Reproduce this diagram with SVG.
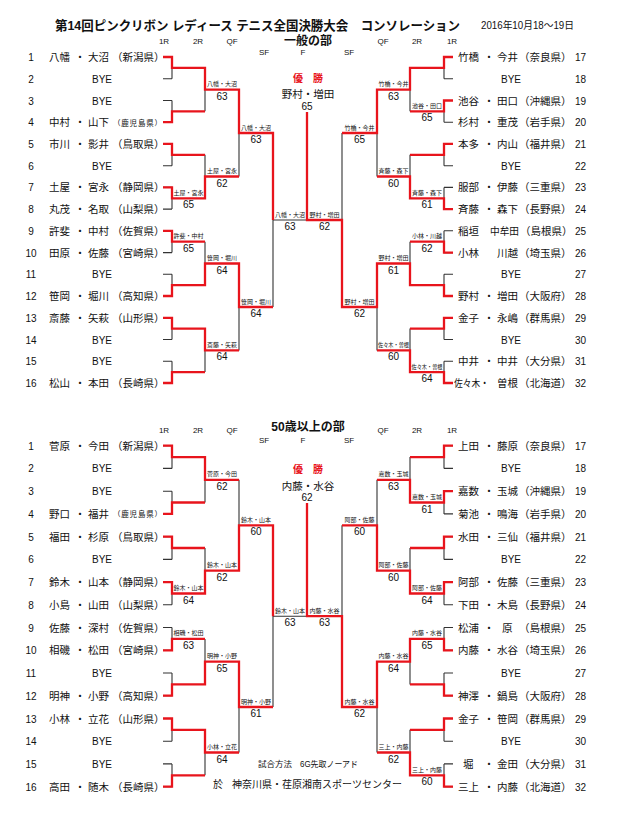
<svg xmlns="http://www.w3.org/2000/svg" width="620" height="840" viewBox="0 0 620 840">
<style>
text{font-family:"Liberation Sans","Noto Sans CJK JP",sans-serif;fill:#111}
.k{fill:none;stroke:#333;stroke-width:1.1}
.r{fill:none;stroke:#e8141c;stroke-width:2.3}
.n{font-size:10.5px}
.pf{font-size:10.5px}
.pfs{font-size:7.5px}
.d{font-size:10.5px;text-anchor:middle}
.num{font-size:10px;text-anchor:middle}
.numr{font-size:10px}
.bye{font-size:10px;text-anchor:middle}
.lab{font-size:6px;text-anchor:middle}
.sc{font-size:10px;text-anchor:middle}
.rd{font-size:8px;text-anchor:middle}
.ttl{font-size:12.8px;font-weight:bold}
.sec{font-size:12px;font-weight:bold;text-anchor:middle}
.win{font-size:10px;font-weight:bold;text-anchor:middle;fill:#e8141c}
.ch{font-size:10.5px;text-anchor:middle}
</style>
<rect width="620" height="840" fill="#fff"/>

<g id="header">
<text class="ttl" x="55" y="30" textLength="405" lengthAdjust="spacingAndGlyphs">第14回ピンクリボン レディース テニス全国決勝大会　コンソレーション</text>
<text x="481" y="29" font-size="10" textLength="93" lengthAdjust="spacingAndGlyphs">2016年10月18～19日</text>
</g>

<g id="connectors">
<path class="k" d="M163,57H172M163,78.7H172M163,100.5H172M163,122.2H172M163,143.9H172M163,165.7H172M163,187.4H172M163,209.1H172M163,230.8H172M163,252.6H172M163,274.3H172M163,296H172M163,317.8H172M163,339.5H172M163,361.2H172M163,383H172
M172,57V78.7M172,100.5V122.2M172,143.9V165.7M172,187.4V209.1M172,230.8V252.6M172,274.3V296M172,317.8V339.5M172,361.2V383
M205,67.9V111.3M205,154.8V198.3M205,241.7V285.2M205,328.6V372.1M239,89.6V176.5M239,263.5V350.4M273,133V307M273,220H342
M444,57H453M444,78.7H453M444,100.5H453M444,122.2H453M444,143.9H453M444,165.7H453M444,187.4H453M444,209.1H453M444,230.8H453M444,252.6H453M444,274.3H453M444,296H453M444,317.8H453M444,339.5H453M444,361.2H453M444,383H453
M444,57V78.7M444,100.5V122.2M444,143.9V165.7M444,187.4V209.1M444,230.8V252.6M444,274.3V296M444,317.8V339.5M444,361.2V383
M410,67.9V111.3M410,154.8V198.3M410,241.7V285.2M410,328.6V372.1M377,89.6V176.5M377,263.5V350.4M342,133V307"/>
<path class="k" d="M163,445.7H172M163,468.4H172M163,491.2H172M163,513.9H172M163,536.6H172M163,559.4H172M163,582.1H172M163,604.8H172M163,627.5H172M163,650.3H172M163,673H172M163,695.7H172M163,718.5H172M163,741.2H172M163,763.9H172M163,786.7H172
M172,445.7V468.4M172,491.2V513.9M172,536.6V559.4M172,582.1V604.8M172,627.5V650.3M172,673V695.7M172,718.5V741.2M172,763.9V786.7
M205,457.1V502.5M205,548V593.5M205,638.9V684.4M205,729.8V775.3M239,479.8V570.7M239,661.6V752.5M273,525.3V707M273,616.2H342
M444,445.7H453M444,468.4H453M444,491.2H453M444,513.9H453M444,536.6H453M444,559.4H453M444,582.1H453M444,604.8H453M444,627.5H453M444,650.3H453M444,673H453M444,695.7H453M444,718.5H453M444,741.2H453M444,763.9H453M444,786.7H453
M444,445.7V468.4M444,491.2V513.9M444,536.6V559.4M444,582.1V604.8M444,627.5V650.3M444,673V695.7M444,718.5V741.2M444,763.9V786.7
M410,457.1V502.5M410,548V593.5M410,638.9V684.4M410,729.8V775.3M377,479.8V570.7M377,661.6V752.5M342,525.3V707"/>
<path class="r" d="M163,57H172V67.9H205V89.6H239V133H273V220
M163,122.2H172V111.3H205
M163,143.9H172V154.8H205
M163,187.4H172V198.3H205V176.5H239
M163,230.8H172V241.7H205
M163,296H172V285.2H205V263.5H239V307H273
M163,317.8H172V328.6H205V350.4H239
M163,383H172V372.1H205
M453,57H444V67.9H410V89.6H377V133H342
M453,100.5H444V111.3H410
M453,143.9H444V154.8H410
M453,209.1H444V198.3H410V176.5H377
M453,252.6H444V241.7H410
M453,296H444V285.2H410V263.5H377V307H342V220H307V112
M453,317.8H444V328.6H410
M453,383H444V372.1H410V350.4H377"/>
<path class="r" d="M163,445.7H172V457.1H205V479.8H239
M163,513.9H172V502.5H205
M163,536.6H172V548H205
M163,582.1H172V593.5H205V570.7H239V525.3H273V616.2
M163,650.3H172V638.9H205
M163,695.7H172V684.4H205V661.6H239V707H273
M163,718.5H172V729.8H205V752.5H239
M163,786.7H172V775.3H205
M453,445.7H444V457.1H410
M453,491.2H444V502.5H410V479.8H377
M453,536.6H444V548H410
M453,582.1H444V593.5H410V570.7H377V525.3H342
M453,650.3H444V638.9H410V661.6H377V707H342V616.2H307V503
M453,695.7H444V684.4H410
M453,718.5H444V729.8H410
M453,786.7H444V775.3H410V752.5H377"/>
</g>

<!-- ===== 一般の部 ===== -->
<g id="sec1-head">
<text class="sec" x="308" y="45">一般の部</text>
<text class="rd" x="164" y="44">1R</text><text class="rd" x="198" y="44">2R</text><text class="rd" x="232" y="44">QF</text>
<text class="rd" x="264" y="55">SF</text><text class="rd" x="303" y="55">F</text><text class="rd" x="349" y="55">SF</text>
<text class="rd" x="383" y="44">QF</text><text class="rd" x="417" y="44">2R</text><text class="rd" x="452" y="44">1R</text>
</g>
<g id="sec1-champion">
<text class="win" x="308" y="82">優　勝</text>
<text class="ch" x="308" y="98">野村・増田</text>
<text class="sc" x="307" y="110">65</text>
</g>

<g id="t01"><text class="num" x="31" y="61">1</text><text class="n" x="49" y="61">八幡</text><text class="d" x="80" y="61">・</text><text class="n" x="88" y="61">大沼</text><text class="pf" x="112" y="61">（新潟県）</text></g>
<g id="t02"><text class="num" x="31" y="82.7">2</text><text class="bye" x="102" y="82.7">BYE</text></g>
<g id="t03"><text class="num" x="31" y="104.5">3</text><text class="bye" x="102" y="104.5">BYE</text></g>
<g id="t04"><text class="num" x="31" y="126.2">4</text><text class="n" x="49" y="126.2">中村</text><text class="d" x="80" y="126.2">・</text><text class="n" x="88" y="126.2">山下</text><text class="pfs" x="113" y="125.5" textLength="49" lengthAdjust="spacing">（鹿児島県）</text></g>
<g id="t05"><text class="num" x="31" y="147.9">5</text><text class="n" x="49" y="147.9">市川</text><text class="d" x="80" y="147.9">・</text><text class="n" x="88" y="147.9">影井</text><text class="pf" x="112" y="147.9">（鳥取県）</text></g>
<g id="t06"><text class="num" x="31" y="169.7">6</text><text class="bye" x="102" y="169.7">BYE</text></g>
<g id="t07"><text class="num" x="31" y="191.4">7</text><text class="n" x="49" y="191.4">土屋</text><text class="d" x="80" y="191.4">・</text><text class="n" x="88" y="191.4">宮永</text><text class="pf" x="112" y="191.4">（静岡県）</text></g>
<g id="t08"><text class="num" x="31" y="213.1">8</text><text class="n" x="49" y="213.1">丸茂</text><text class="d" x="80" y="213.1">・</text><text class="n" x="88" y="213.1">名取</text><text class="pf" x="112" y="213.1">（山梨県）</text></g>
<g id="t09"><text class="num" x="31" y="234.8">9</text><text class="n" x="49" y="234.8">許斐</text><text class="d" x="80" y="234.8">・</text><text class="n" x="88" y="234.8">中村</text><text class="pf" x="112" y="234.8">（佐賀県）</text></g>
<g id="t10"><text class="num" x="31" y="256.6">10</text><text class="n" x="49" y="256.6">田原</text><text class="d" x="80" y="256.6">・</text><text class="n" x="88" y="256.6">佐藤</text><text class="pf" x="112" y="256.6">（宮崎県）</text></g>
<g id="t11"><text class="num" x="31" y="278.3">11</text><text class="bye" x="102" y="278.3">BYE</text></g>
<g id="t12"><text class="num" x="31" y="300">12</text><text class="n" x="49" y="300">笹岡</text><text class="d" x="80" y="300">・</text><text class="n" x="88" y="300">堀川</text><text class="pf" x="112" y="300">（高知県）</text></g>
<g id="t13"><text class="num" x="31" y="321.8">13</text><text class="n" x="49" y="321.8">斎藤</text><text class="d" x="80" y="321.8">・</text><text class="n" x="88" y="321.8">矢萩</text><text class="pf" x="112" y="321.8">（山形県）</text></g>
<g id="t14"><text class="num" x="31" y="343.5">14</text><text class="bye" x="102" y="343.5">BYE</text></g>
<g id="t15"><text class="num" x="31" y="365.2">15</text><text class="bye" x="102" y="365.2">BYE</text></g>
<g id="t16"><text class="num" x="31" y="387">16</text><text class="n" x="49" y="387">松山</text><text class="d" x="80" y="387">・</text><text class="n" x="88" y="387">本田</text><text class="pf" x="112" y="387">（長崎県）</text></g>

<g id="t17"><text class="n" x="458" y="61">竹橋</text><text class="d" x="489" y="61">・</text><text class="n" x="497" y="61">今井</text><text class="pf" x="519" y="61">（奈良県）</text><text class="numr" x="575" y="61">17</text></g>
<g id="t18"><text class="bye" x="511" y="82.7">BYE</text><text class="numr" x="575" y="82.7">18</text></g>
<g id="t19"><text class="n" x="458" y="104.5">池谷</text><text class="d" x="489" y="104.5">・</text><text class="n" x="497" y="104.5">田口</text><text class="pf" x="519" y="104.5">（沖縄県）</text><text class="numr" x="575" y="104.5">19</text></g>
<g id="t20"><text class="n" x="458" y="126.2">杉村</text><text class="d" x="489" y="126.2">・</text><text class="n" x="497" y="126.2">重茂</text><text class="pf" x="519" y="126.2">（岩手県）</text><text class="numr" x="575" y="126.2">20</text></g>
<g id="t21"><text class="n" x="458" y="147.9">本多</text><text class="d" x="489" y="147.9">・</text><text class="n" x="497" y="147.9">内山</text><text class="pf" x="519" y="147.9">（福井県）</text><text class="numr" x="575" y="147.9">21</text></g>
<g id="t22"><text class="bye" x="511" y="169.7">BYE</text><text class="numr" x="575" y="169.7">22</text></g>
<g id="t23"><text class="n" x="458" y="191.4">服部</text><text class="d" x="489" y="191.4">・</text><text class="n" x="497" y="191.4">伊藤</text><text class="pf" x="519" y="191.4">（三重県）</text><text class="numr" x="575" y="191.4">23</text></g>
<g id="t24"><text class="n" x="458" y="213.1">斉藤</text><text class="d" x="489" y="213.1">・</text><text class="n" x="497" y="213.1">森下</text><text class="pf" x="519" y="213.1">（長野県）</text><text class="numr" x="575" y="213.1">24</text></g>
<g id="t25"><text class="n" x="458" y="234.8">稲垣</text><text class="n" x="490" y="234.8" textLength="29" lengthAdjust="spacingAndGlyphs">中牟田</text><text class="pf" x="520" y="234.8">（島根県）</text><text class="numr" x="575" y="234.8">25</text></g>
<g id="t26"><text class="n" x="458" y="256.6">小林</text><text class="n" x="497" y="256.6">川越</text><text class="pf" x="519" y="256.6">（埼玉県）</text><text class="numr" x="575" y="256.6">26</text></g>
<g id="t27"><text class="bye" x="511" y="278.3">BYE</text><text class="numr" x="575" y="278.3">27</text></g>
<g id="t28"><text class="n" x="458" y="300">野村</text><text class="d" x="489" y="300">・</text><text class="n" x="497" y="300">増田</text><text class="pf" x="519" y="300">（大阪府）</text><text class="numr" x="575" y="300">28</text></g>
<g id="t29"><text class="n" x="458" y="321.8">金子</text><text class="d" x="489" y="321.8">・</text><text class="n" x="497" y="321.8">永嶋</text><text class="pf" x="519" y="321.8">（群馬県）</text><text class="numr" x="575" y="321.8">29</text></g>
<g id="t30"><text class="bye" x="511" y="343.5">BYE</text><text class="numr" x="575" y="343.5">30</text></g>
<g id="t31"><text class="n" x="458" y="365.2">中井</text><text class="d" x="489" y="365.2">・</text><text class="n" x="497" y="365.2">中井</text><text class="pf" x="519" y="365.2">（大分県）</text><text class="numr" x="575" y="365.2">31</text></g>
<g id="t32"><text class="n" x="454" y="387" textLength="35" lengthAdjust="spacingAndGlyphs">佐々木・</text><text class="n" x="497" y="387">曽根</text><text class="pf" x="519" y="387">（北海道）</text><text class="numr" x="575" y="387">32</text></g>

<g id="t-matches">
<g id="tm1"><text class="lab" x="188.5" y="194.8">土屋・宮永</text><text class="sc" x="188.5" y="208.3">65</text></g>
<g id="tm2"><text class="lab" x="188.5" y="238.2">許斐・中村</text><text class="sc" x="188.5" y="251.7">65</text></g>
<g id="tm3"><text class="lab" x="222" y="86.1">八幡・大沼</text><text class="sc" x="222" y="99.6">63</text></g>
<g id="tm4"><text class="lab" x="222" y="173">土屋・宮永</text><text class="sc" x="222" y="186.5">62</text></g>
<g id="tm5"><text class="lab" x="222" y="260">笹岡・堀川</text><text class="sc" x="222" y="273.5">64</text></g>
<g id="tm6"><text class="lab" x="222" y="346.9">斎藤・矢萩</text><text class="sc" x="222" y="360.4">64</text></g>
<g id="tm7"><text class="lab" x="256" y="129.5">八幡・大沼</text><text class="sc" x="256" y="143">63</text></g>
<g id="tm8"><text class="lab" x="256" y="303.5">笹岡・堀川</text><text class="sc" x="256" y="317">64</text></g>
<g id="tm9"><text class="lab" x="290" y="216.5">八幡・大沼</text><text class="sc" x="290" y="230">63</text></g>
<g id="tm10"><text class="lab" x="324.5" y="216.5">野村・増田</text><text class="sc" x="324.5" y="230">62</text></g>
<g id="tm11"><text class="lab" x="359.5" y="129.5">竹橋・今井</text><text class="sc" x="359.5" y="143">65</text></g>
<g id="tm12"><text class="lab" x="359.5" y="303.5">野村・増田</text><text class="sc" x="359.5" y="317">62</text></g>
<g id="tm13"><text class="lab" x="393.5" y="86.1">竹橋・今井</text><text class="sc" x="393.5" y="99.6">63</text></g>
<g id="tm14"><text class="lab" x="393.5" y="173">斉藤・森下</text><text class="sc" x="393.5" y="186.5">60</text></g>
<g id="tm15"><text class="lab" x="393.5" y="260">野村・増田</text><text class="sc" x="393.5" y="273.5">61</text></g>
<g id="tm16"><text class="lab" x="393.5" y="346.9" textLength="31" lengthAdjust="spacingAndGlyphs">佐々木・曽根</text><text class="sc" x="393.5" y="360.4">60</text></g>
<g id="tm17"><text class="lab" x="427" y="107.8">池谷・田口</text><text class="sc" x="427" y="121.3">65</text></g>
<g id="tm18"><text class="lab" x="427" y="194.8">斉藤・森下</text><text class="sc" x="427" y="208.3">61</text></g>
<g id="tm19"><text class="lab" x="427" y="238.2">小林・川越</text><text class="sc" x="427" y="251.7">62</text></g>
<g id="tm20"><text class="lab" x="427" y="368.6" textLength="31" lengthAdjust="spacingAndGlyphs">佐々木・曽根</text><text class="sc" x="427" y="382.1">64</text></g>
</g>

<!-- ===== 50歳以上の部 ===== -->
<g id="sec2-head">
<text class="sec" x="308" y="431">50歳以上の部</text>
<text class="rd" x="164" y="433">1R</text><text class="rd" x="198" y="433">2R</text><text class="rd" x="232" y="433">QF</text>
<text class="rd" x="264" y="443">SF</text><text class="rd" x="303" y="443">F</text><text class="rd" x="349" y="443">SF</text>
<text class="rd" x="383" y="433">QF</text><text class="rd" x="417" y="433">2R</text><text class="rd" x="452" y="433">1R</text>
</g>
<g id="sec2-champion">
<text class="win" x="308" y="473">優　勝</text>
<text class="ch" x="308" y="490">内藤・水谷</text>
<text class="sc" x="307" y="501">62</text>
</g>

<g id="b01"><text class="num" x="31" y="449.7">1</text><text class="n" x="49" y="449.7">菅原</text><text class="d" x="80" y="449.7">・</text><text class="n" x="88" y="449.7">今田</text><text class="pf" x="112" y="449.7">（新潟県）</text></g>
<g id="b02"><text class="num" x="31" y="472.4">2</text><text class="bye" x="102" y="472.4">BYE</text></g>
<g id="b03"><text class="num" x="31" y="495.2">3</text><text class="bye" x="102" y="495.2">BYE</text></g>
<g id="b04"><text class="num" x="31" y="517.9">4</text><text class="n" x="49" y="517.9">野口</text><text class="d" x="80" y="517.9">・</text><text class="n" x="88" y="517.9">福井</text><text class="pfs" x="113" y="517.2" textLength="49" lengthAdjust="spacing">（鹿児島県）</text></g>
<g id="b05"><text class="num" x="31" y="540.6">5</text><text class="n" x="49" y="540.6">福田</text><text class="d" x="80" y="540.6">・</text><text class="n" x="88" y="540.6">杉原</text><text class="pf" x="112" y="540.6">（鳥取県）</text></g>
<g id="b06"><text class="num" x="31" y="563.4">6</text><text class="bye" x="102" y="563.4">BYE</text></g>
<g id="b07"><text class="num" x="31" y="586.1">7</text><text class="n" x="49" y="586.1">鈴木</text><text class="d" x="80" y="586.1">・</text><text class="n" x="88" y="586.1">山本</text><text class="pf" x="112" y="586.1">（静岡県）</text></g>
<g id="b08"><text class="num" x="31" y="608.8">8</text><text class="n" x="49" y="608.8">小島</text><text class="d" x="80" y="608.8">・</text><text class="n" x="88" y="608.8">山田</text><text class="pf" x="112" y="608.8">（山梨県）</text></g>
<g id="b09"><text class="num" x="31" y="631.5">9</text><text class="n" x="49" y="631.5">佐藤</text><text class="d" x="80" y="631.5">・</text><text class="n" x="88" y="631.5">深村</text><text class="pf" x="112" y="631.5">（佐賀県）</text></g>
<g id="b10"><text class="num" x="31" y="654.3">10</text><text class="n" x="49" y="654.3">相磯</text><text class="d" x="80" y="654.3">・</text><text class="n" x="88" y="654.3">松田</text><text class="pf" x="112" y="654.3">（宮崎県）</text></g>
<g id="b11"><text class="num" x="31" y="677">11</text><text class="bye" x="102" y="677">BYE</text></g>
<g id="b12"><text class="num" x="31" y="699.7">12</text><text class="n" x="49" y="699.7">明神</text><text class="d" x="80" y="699.7">・</text><text class="n" x="88" y="699.7">小野</text><text class="pf" x="112" y="699.7">（高知県）</text></g>
<g id="b13"><text class="num" x="31" y="722.5">13</text><text class="n" x="49" y="722.5">小林</text><text class="d" x="80" y="722.5">・</text><text class="n" x="88" y="722.5">立花</text><text class="pf" x="112" y="722.5">（山形県）</text></g>
<g id="b14"><text class="num" x="31" y="745.2">14</text><text class="bye" x="102" y="745.2">BYE</text></g>
<g id="b15"><text class="num" x="31" y="767.9">15</text><text class="bye" x="102" y="767.9">BYE</text></g>
<g id="b16"><text class="num" x="31" y="790.7">16</text><text class="n" x="49" y="790.7">高田</text><text class="d" x="80" y="790.7">・</text><text class="n" x="88" y="790.7">随木</text><text class="pf" x="112" y="790.7">（長崎県）</text></g>

<g id="b17"><text class="n" x="458" y="449.7">上田</text><text class="d" x="489" y="449.7">・</text><text class="n" x="497" y="449.7">藤原</text><text class="pf" x="519" y="449.7">（奈良県）</text><text class="numr" x="575" y="449.7">17</text></g>
<g id="b18"><text class="bye" x="511" y="472.4">BYE</text><text class="numr" x="575" y="472.4">18</text></g>
<g id="b19"><text class="n" x="458" y="495.2">嘉数</text><text class="d" x="489" y="495.2">・</text><text class="n" x="497" y="495.2">玉城</text><text class="pf" x="519" y="495.2">（沖縄県）</text><text class="numr" x="575" y="495.2">19</text></g>
<g id="b20"><text class="n" x="458" y="517.9">菊池</text><text class="d" x="489" y="517.9">・</text><text class="n" x="497" y="517.9">鳴海</text><text class="pf" x="519" y="517.9">（岩手県）</text><text class="numr" x="575" y="517.9">20</text></g>
<g id="b21"><text class="n" x="458" y="540.6">水田</text><text class="d" x="489" y="540.6">・</text><text class="n" x="497" y="540.6">三仙</text><text class="pf" x="519" y="540.6">（福井県）</text><text class="numr" x="575" y="540.6">21</text></g>
<g id="b22"><text class="bye" x="511" y="563.4">BYE</text><text class="numr" x="575" y="563.4">22</text></g>
<g id="b23"><text class="n" x="458" y="586.1">阿部</text><text class="d" x="489" y="586.1">・</text><text class="n" x="497" y="586.1">佐藤</text><text class="pf" x="519" y="586.1">（三重県）</text><text class="numr" x="575" y="586.1">23</text></g>
<g id="b24"><text class="n" x="458" y="608.8">下田</text><text class="d" x="489" y="608.8">・</text><text class="n" x="497" y="608.8">木島</text><text class="pf" x="519" y="608.8">（長野県）</text><text class="numr" x="575" y="608.8">24</text></g>
<g id="b25"><text class="n" x="458" y="631.5">松浦</text><text class="d" x="489" y="631.5">・</text><text class="n" x="502" y="631.5">原</text><text class="pf" x="519" y="631.5">（島根県）</text><text class="numr" x="575" y="631.5">25</text></g>
<g id="b26"><text class="n" x="458" y="654.3">内藤</text><text class="d" x="489" y="654.3">・</text><text class="n" x="497" y="654.3">水谷</text><text class="pf" x="519" y="654.3">（埼玉県）</text><text class="numr" x="575" y="654.3">26</text></g>
<g id="b27"><text class="bye" x="511" y="677">BYE</text><text class="numr" x="575" y="677">27</text></g>
<g id="b28"><text class="n" x="458" y="699.7">神澤</text><text class="d" x="489" y="699.7">・</text><text class="n" x="497" y="699.7">鍋島</text><text class="pf" x="519" y="699.7">（大阪府）</text><text class="numr" x="575" y="699.7">28</text></g>
<g id="b29"><text class="n" x="458" y="722.5">金子</text><text class="d" x="489" y="722.5">・</text><text class="n" x="497" y="722.5">笹岡</text><text class="pf" x="519" y="722.5">（群馬県）</text><text class="numr" x="575" y="722.5">29</text></g>
<g id="b30"><text class="bye" x="511" y="745.2">BYE</text><text class="numr" x="575" y="745.2">30</text></g>
<g id="b31"><text class="n" x="463" y="767.9">堀</text><text class="d" x="489" y="767.9">・</text><text class="n" x="497" y="767.9">金田</text><text class="pf" x="519" y="767.9">（大分県）</text><text class="numr" x="575" y="767.9">31</text></g>
<g id="b32"><text class="n" x="458" y="790.7">三上</text><text class="d" x="489" y="790.7">・</text><text class="n" x="497" y="790.7">内藤</text><text class="pf" x="519" y="790.7">（北海道）</text><text class="numr" x="575" y="790.7">32</text></g>

<g id="b-matches">
<g id="bm1"><text class="lab" x="188.5" y="590">鈴木・山本</text><text class="sc" x="188.5" y="603.5">64</text></g>
<g id="bm2"><text class="lab" x="188.5" y="635.4">相磯・松田</text><text class="sc" x="188.5" y="648.9">63</text></g>
<g id="bm3"><text class="lab" x="222" y="476.3">菅原・今田</text><text class="sc" x="222" y="489.8">62</text></g>
<g id="bm4"><text class="lab" x="222" y="567.2">鈴木・山本</text><text class="sc" x="222" y="580.7">62</text></g>
<g id="bm5"><text class="lab" x="222" y="658.1">明神・小野</text><text class="sc" x="222" y="671.6">65</text></g>
<g id="bm6"><text class="lab" x="222" y="749">小林・立花</text><text class="sc" x="222" y="762.5">64</text></g>
<g id="bm7"><text class="lab" x="256" y="521.8">鈴木・山本</text><text class="sc" x="256" y="535.3">60</text></g>
<g id="bm8"><text class="lab" x="256" y="703.5">明神・小野</text><text class="sc" x="256" y="717">61</text></g>
<g id="bm9"><text class="lab" x="290" y="612.7">鈴木・山本</text><text class="sc" x="290" y="626.2">63</text></g>
<g id="bm10"><text class="lab" x="324.5" y="612.7">内藤・水谷</text><text class="sc" x="324.5" y="626.2">63</text></g>
<g id="bm11"><text class="lab" x="359.5" y="521.8">阿部・佐藤</text><text class="sc" x="359.5" y="535.3">60</text></g>
<g id="bm12"><text class="lab" x="359.5" y="703.5">内藤・水谷</text><text class="sc" x="359.5" y="717">62</text></g>
<g id="bm13"><text class="lab" x="393.5" y="476.3">嘉数・玉城</text><text class="sc" x="393.5" y="489.8">63</text></g>
<g id="bm14"><text class="lab" x="393.5" y="567.2">阿部・佐藤</text><text class="sc" x="393.5" y="580.7">60</text></g>
<g id="bm15"><text class="lab" x="393.5" y="658.1">内藤・水谷</text><text class="sc" x="393.5" y="671.6">64</text></g>
<g id="bm16"><text class="lab" x="393.5" y="749">三上・内藤</text><text class="sc" x="393.5" y="762.5">62</text></g>
<g id="bm17"><text class="lab" x="427" y="499">嘉数・玉城</text><text class="sc" x="427" y="512.5">61</text></g>
<g id="bm18"><text class="lab" x="427" y="590">阿部・佐藤</text><text class="sc" x="427" y="603.5">64</text></g>
<g id="bm19"><text class="lab" x="427" y="635.4">内藤・水谷</text><text class="sc" x="427" y="648.9">65</text></g>
<g id="bm20"><text class="lab" x="427" y="771.8">三上・内藤</text><text class="sc" x="427" y="785.3">60</text></g>
</g>

<g id="footer">
<text x="258" y="767" font-size="8.5">試合方法</text>
<text x="300" y="767" font-size="8.5" textLength="58" lengthAdjust="spacingAndGlyphs">6G先取ノーアド</text>
<text x="213" y="788" font-size="10">於</text>
<text x="232" y="788" font-size="10" textLength="170" lengthAdjust="spacingAndGlyphs">神奈川県・荏原湘南スポーツセンター</text>
</g>
</svg>
